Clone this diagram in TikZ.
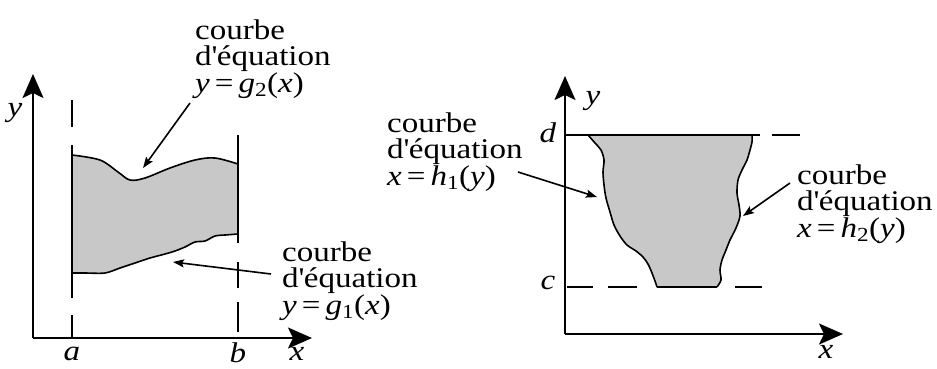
\documentclass[tikz,border=0pt]{standalone}
\usepackage{fontspec}
\setmainfont{Liberation Serif}[FakeStretch=1.16]
\usetikzlibrary{arrows.meta}
\definecolor{regiongray}{RGB}{200,200,200}
\tikzset{
  axis/.style={line width=2pt, -{Stealth[length=24pt,width=21pt,inset=5pt]}},
  curve/.style={line width=1.6pt, line join=round},
  guide/.style={line width=1.8pt},
  pointer/.style={line width=1.6pt, -{Stealth[length=11pt,width=8pt,inset=2pt]}},
  lbl/.style={inner sep=0pt, font=\fontsize{28.5}{25.5}\selectfont},
  ilbl/.style={inner sep=0pt, font=\fontsize{28.5}{25.5}\selectfont\itshape},
  note/.style={lbl, anchor=north west, align=left},
}
\newcommand{\eqsign}{\hspace{5pt}=\hspace{5pt}}
\newcommand{\dequ}{d\textquotesingle équation}
\begin{document}
\begin{tikzpicture}[x=1pt,y=-1pt]
\useasboundingbox (0,0) rectangle (937,368);

% ---------- left figure ----------
\coordinate (O1) at (33,338);
\coordinate (Y1) at (33,74);
\coordinate (X1) at (312,338);
\fill[regiongray] plot[smooth,tension=0.55] coordinates {(72,155) (100,160) (118,172) (130,180) (145,178) (170,168) (195,160) (215,158) (238,164)}
  -- (238,234)
  -- plot[smooth,tension=0.5] coordinates {(238,234) (225,235) (215,236) (205,241) (195,242) (185,247) (175,251) (165,254) (150,258) (135,263) (120,268) (105,273) (85,273) (72,273)} -- cycle;
\draw[curve] plot[smooth,tension=0.55] coordinates {(72,155) (100,160) (118,172) (130,180) (145,178) (170,168) (195,160) (215,158) (238,164)};
\draw[curve] plot[smooth,tension=0.5] coordinates {(238,234) (225,235) (215,236) (205,241) (195,242) (185,247) (175,251) (165,254) (150,258) (135,263) (120,268) (105,273) (85,273) (72,273)};
% dashed verticals x=a, x=b
\draw[guide] (72,100) -- (72,127);
\draw[guide] (72,145) -- (72,298);
\draw[guide] (72,315) -- (72,338);
\draw[guide] (238,135) -- (238,243);
\draw[guide] (238,262) -- (238,288);
\draw[guide] (238,302) -- (238,332);
\draw[axis] (O1) -- (Y1);
\draw[axis] (O1) -- (X1);
\node[ilbl] (ly1) at (15,113) {y};
\node[ilbl] (la) at (72,354) {a};
\node[ilbl] (lb) at (238,353) {b};
\node[ilbl] (lx1) at (297,354) {x};

\node[note] (g2) at (195,20) {courbe\\\dequ\\\textit{y}\eqsign\textit{g}\textsubscript{2}(\textit{x})};
\node[note] (g1) at (282,242) {courbe\\\dequ\\\textit{y}\eqsign\textit{g}\textsubscript{1}(\textit{x})};
\coordinate (g2s) at (190,103);
\coordinate (g2e) at (143,168);
\coordinate (g1s) at (271,274);
\coordinate (g1e) at (173,262);
\draw[pointer] (g2s) -- (g2e);
\draw[pointer] (g1s) -- (g1e);

% ---------- right figure ----------
\coordinate (O2) at (565,334);
\coordinate (Y2) at (565,76);
\coordinate (X2) at (843,334);
\fill[regiongray] (588,135) -- (752,135)
  -- plot[smooth,tension=0.5] coordinates {(752,135) (752,142) (750,150) (747,160) (742,170) (738,180) (737,193) (739,205) (740,216) (736,228) (730,240) (726,250) (722,260) (720,270) (721,280) (717,287)}
  -- (657,287)
  -- plot[smooth,tension=0.5] coordinates {(657,287) (655,281) (652,273) (648,264) (643,257) (636,251) (627,245) (620,236) (614,225) (610,212) (606,198) (604,185) (603,172) (604,160) (601,150) (595,143) (588,135)} -- cycle;
\draw[curve] plot[smooth,tension=0.5] coordinates {(752,135) (752,142) (750,150) (747,160) (742,170) (738,180) (737,193) (739,205) (740,216) (736,228) (730,240) (726,250) (722,260) (720,270) (721,280) (717,287)};
\draw[curve] plot[smooth,tension=0.5] coordinates {(657,287) (655,281) (652,273) (648,264) (643,257) (636,251) (627,245) (620,236) (614,225) (610,212) (606,198) (604,185) (603,172) (604,160) (601,150) (595,143) (588,135)};
% y=d and y=c lines
\draw[guide] (565,135) -- (760,135);
\draw[guide] (772,135) -- (800,135);
\draw[guide] (567,287) -- (593,287);
\draw[guide] (608,287) -- (637,287);
\draw[guide] (657,287) -- (717,287);
\draw[guide] (735,287) -- (762,287);
\draw[axis] (O2) -- (Y2);
\draw[axis] (O2) -- (X2);
\node[ilbl] (ly2) at (593,101) {y};
\node[ilbl] (ld) at (548,133) {d};
\node[ilbl] (lc) at (548,283) {c};
\node[ilbl] (lx2) at (826,352) {x};

\node[note] (h1) at (387,113) {courbe\\\dequ\\\textit{x}\eqsign\textit{h}\textsubscript{1}(\textit{y})};
\node[note] (h2) at (797,165) {courbe\\\dequ\\\textit{x}\eqsign\textit{h}\textsubscript{2}(\textit{y})};
\coordinate (h1s) at (518,172);
\coordinate (h1e) at (597,197);
\coordinate (h2s) at (790,183);
\coordinate (h2e) at (743,216);
\draw[pointer] (h1s) -- (h1e);
\draw[pointer] (h2s) -- (h2e);
\end{tikzpicture}
\end{document}
